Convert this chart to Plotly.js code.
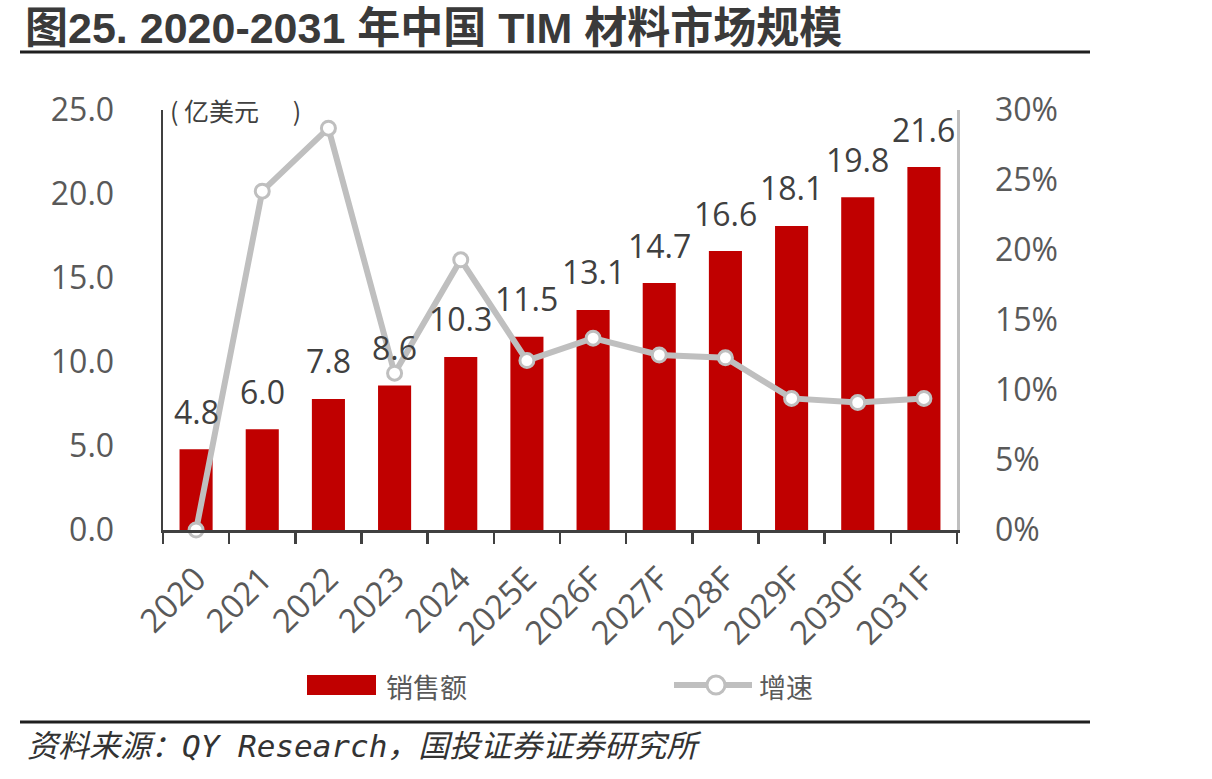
<!DOCTYPE html>
<html>
<head>
<meta charset="utf-8">
<script src="https://cdn.plot.ly/plotly-3.0.1.min.js"></script>
<style>
  html, body { margin: 0; padding: 0; background: #ffffff; }
  #chart { width: 1212px; height: 779px; }
</style>
</head>
<body>
<div id="chart"></div>
<script>
// Market size of TIM materials in China, 2020-2031
const years = ['2020', '2021', '2022', '2023', '2024', '2025E', '2026F', '2027F', '2028F', '2029F', '2030F', '2031F'];
const sales = [4.8, 6.0, 7.8, 8.6, 10.3, 11.5, 13.1, 14.7, 16.6, 18.1, 19.8, 21.6];   // 亿美元
const growth = [0.0, 24.2, 28.7, 11.2, 19.3, 12.1, 13.7, 12.5, 12.3, 9.4, 9.1, 9.4]; // %
const leftTicks = [0, 5, 10, 15, 20, 25];
const rightTicks = [0, 5, 10, 15, 20, 25, 30];
const rightTickText = rightTicks.map(v => v + '%');

// plot area in pixels
const PL = 163, PR = 957, PT = 110, PB = 530;
const px = x => (x - PL) / (PR - PL);
const py = y => (PB - y) / (PB - PT);

const numFont = 'Open Sans, sans-serif';
const cjkFont = '"Noto Sans CJK SC", sans-serif';

const barTrace = {
  type: 'bar',
  x: years,
  y: sales,
  name: '销售额',
  marker: { color: '#c00000', line: { width: 0 } },
  hoverinfo: 'x+y'
};

const lineTrace = {
  type: 'scatter',
  mode: 'lines+markers',
  x: years,
  y: growth,
  yaxis: 'y2',
  name: '增速',
  line: { color: '#bfbfbf', width: 6 },
  marker: { size: 14, color: '#ffffff', line: { color: '#bfbfbf', width: 3 } },
  cliponaxis: false
};

// value labels above the bars (x given as category index)
const valueLabels = years.map((yr, i) => ({
  x: i, y: sales[i], xref: 'x', yref: 'y',
  text: sales[i].toFixed(1),
  showarrow: false, yanchor: 'middle', yshift: 38,
  font: { family: numFont, size: 32, color: '#404040' }
}));

const annotations = valueLabels.concat([
  { // unit
    x: px(168), y: py(110), xref: 'paper', yref: 'paper',
    xanchor: 'left', yanchor: 'middle', showarrow: false,
    text: '(\u00a0亿美元\u00a0\u00a0\u00a0\u00a0\u00a0\u00a0)',
    font: { family: cjkFont, size: 25, color: '#404040' }
  },
  { // legend labels
    x: px(384), y: py(686), xref: 'paper', yref: 'paper',
    xanchor: 'left', yanchor: 'middle', showarrow: false,
    text: '销售额',
    font: { family: cjkFont, size: 27, color: '#595959' }
  },
  {
    x: px(757), y: py(686), xref: 'paper', yref: 'paper',
    xanchor: 'left', yanchor: 'middle', showarrow: false,
    text: '增速',
    font: { family: cjkFont, size: 27, color: '#595959' }
  },
  { // source
    x: px(25), y: py(746), xref: 'paper', yref: 'paper',
    xanchor: 'left', yanchor: 'middle', showarrow: false,
    text: '资料来源：QY Research，国投证券证券研究所',
    font: { family: '"DejaVu Sans Mono", "Noto Sans CJK SC", monospace', size: 31, color: '#333333', style: 'italic' }
  }
]);

const shapes = [
  { type: 'line', xref: 'paper', yref: 'paper', x0: px(20), x1: px(1090), y0: py(52), y1: py(52),
    line: { color: '#1f1f1f', width: 3 } },
  { type: 'line', xref: 'paper', yref: 'paper', x0: px(20), x1: px(1090), y0: py(722), y1: py(722),
    line: { color: '#1f1f1f', width: 3 } },
  // legend keys
  { type: 'rect', xref: 'paper', yref: 'paper', x0: px(307), x1: px(376), y0: py(695), y1: py(675),
    fillcolor: '#c00000', line: { width: 0 } },
  { type: 'line', xref: 'paper', yref: 'paper', x0: px(674), x1: px(752), y0: py(685), y1: py(685),
    line: { color: '#bfbfbf', width: 6 } },
  { type: 'circle', xref: 'paper', yref: 'paper', x0: px(707), x1: px(725), y0: py(694), y1: py(676),
    fillcolor: '#ffffff', line: { color: '#bfbfbf', width: 3 } }
];

const layout = {
  width: 1212,
  height: 779,
  margin: { l: PL, r: 1212 - PR, t: PT, b: 779 - PB, pad: 0 },
  paper_bgcolor: '#ffffff',
  plot_bgcolor: '#ffffff',
  showlegend: false,
  bargap: 0.5,
  title: {
    text: '<b>图25. 2020-2031 年中国 TIM 材料市场规模</b>',
    font: { family: '"Liberation Sans", "Noto Sans CJK SC", sans-serif', size: 43, color: '#3a3a3a' },
    xref: 'container', yref: 'container',
    x: 25 / 1212, xanchor: 'left',
    y: 1 - 28 / 779, yanchor: 'middle'
  },
  xaxis: {
    type: 'category',
    range: [-0.5, years.length - 0.5],
    showline: true, linecolor: '#404040', linewidth: 2.5,
    ticks: 'outside', tickson: 'boundaries', ticklen: 11, tickwidth: 2.5, tickcolor: '#404040',
    tickangle: -45, ticklabelstandoff: 14,
    tickfont: { family: numFont, size: 33, color: '#595959' },
    showgrid: false, zeroline: false, fixedrange: true
  },
  yaxis: {
    range: [0, 25],
    tickvals: leftTicks,
    tickformat: '.1f',
    showline: true, linecolor: '#404040', linewidth: 2.5,
    ticks: '', ticklabelstandoff: 40,
    tickfont: { family: numFont, size: 32, color: '#595959' },
    showgrid: false, zeroline: false, fixedrange: true
  },
  yaxis2: {
    overlaying: 'y', side: 'right',
    range: [0, 30],
    tickvals: rightTicks,
    ticktext: rightTickText,
    showline: true, linecolor: '#bfbfbf', linewidth: 2.5,
    ticks: '', ticklabelstandoff: 29,
    tickfont: { family: numFont, size: 32, color: '#595959' },
    showgrid: false, zeroline: false, fixedrange: true
  },
  annotations: annotations,
  shapes: shapes
};

Plotly.newPlot('chart', [barTrace, lineTrace], layout, { displayModeBar: false, staticPlot: true });
</script>
</body>
</html>
